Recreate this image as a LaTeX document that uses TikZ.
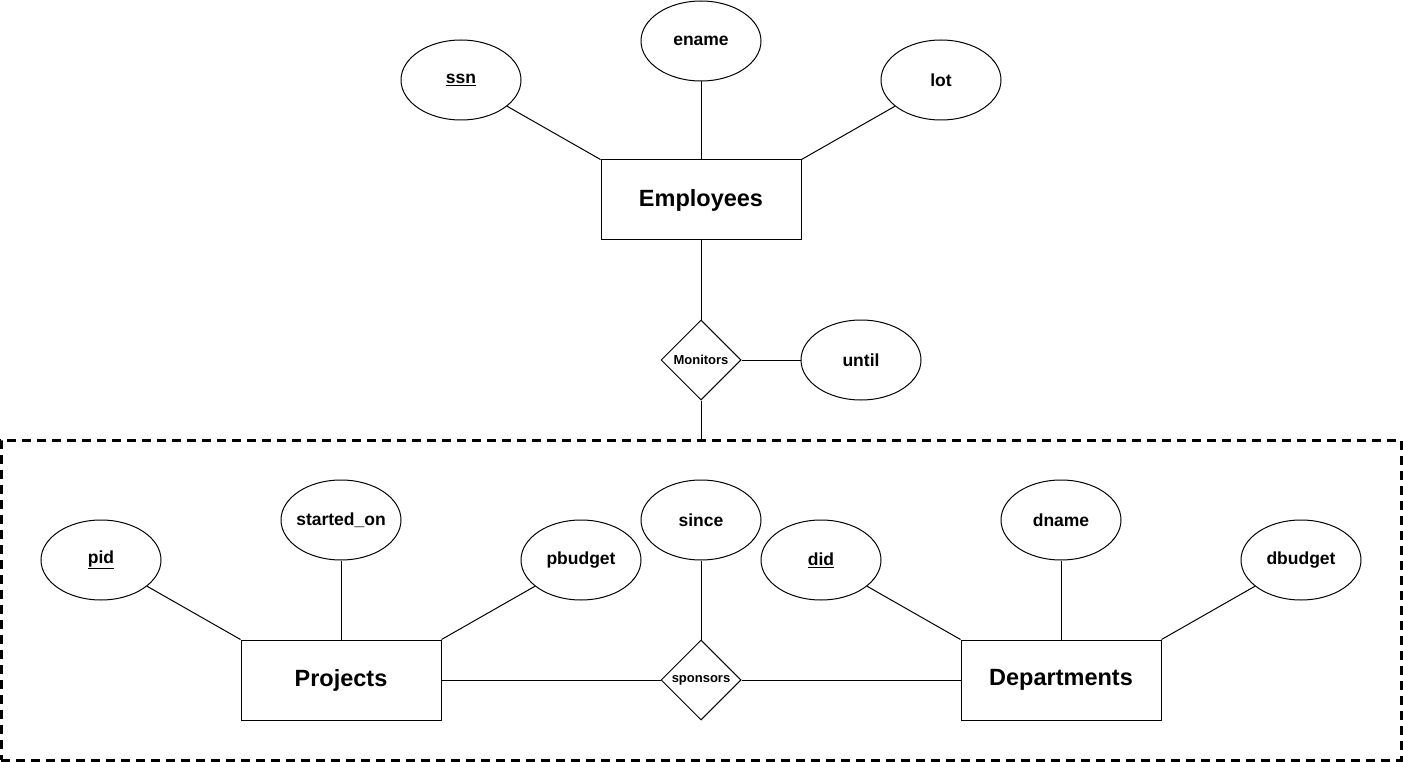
\documentclass[tikz,border=0pt]{standalone}
\usepackage{fontspec}
\setmainfont{Liberation Sans}
\usetikzlibrary{shapes.geometric}
\begin{document}
\begin{tikzpicture}[x=1pt,y=-1pt,
  entity/.style={draw,line width=1pt,rectangle,minimum width=200pt,minimum height=80pt,inner sep=0pt,font=\fontsize{23.5}{27}\selectfont\bfseries},
  attr/.style={draw,line width=1pt,ellipse,minimum width=120pt,minimum height=80pt,inner sep=0pt,font=\fontsize{17.5}{20}\selectfont\bfseries},
  rel/.style={draw,line width=1pt,diamond,minimum width=80pt,minimum height=80pt,inner sep=0pt,font=\fontsize{13}{15}\selectfont\bfseries},
  link/.style={line width=1pt},
  agg/.style={draw,line width=3pt,dash pattern=on 9pt off 6pt,minimum width=1400pt,minimum height=320pt,inner sep=0pt}]
\useasboundingbox (0,0) rectangle (1403,762);
\node[agg] (box) at (701,600) {};
\node[entity] (emp) at (701,200) {Employees};
\node[attr] (ssn) at (461,80) {\underline{ssn}};
\node[attr] (ename) at (701,41) {ename};
\node[attr] (lot) at (941,80) {lot};
\node[rel] (mon) at (701,360) {Monitors};
\node[attr] (until) at (861,360) {until};
\node[entity] (proj) at (341,680) {Projects};
\node[attr] (pid) at (101,560) {\underline{pid}};
\node[attr,inner xsep=-8pt] (start) at (341,520) {started\_on};
\node[attr] (pbud) at (581,560) {pbudget};
\node[attr] (since) at (701,520) {since};
\node[rel] (spon) at (701,680) {sponsors};
\node[entity] (dept) at (1061,680) {Departments};
\node[attr] (did) at (821,560) {\underline{did}};
\node[attr] (dname) at (1061,520) {dname};
\node[attr] (dbud) at (1301,560) {dbudget};
\draw[link] (ssn) -- (emp.north west);
\draw[link] (ename) -- (emp.north);
\draw[link] (lot) -- (emp.north east);
\draw[link] (emp.south) -- (mon.north);
\draw[link] (mon.east) -- (until.west);
\draw[link] (mon.south) -- (box.north);
\draw[link] (pid) -- (proj.north west);
\draw[link] (start) -- (proj.north);
\draw[link] (pbud) -- (proj.north east);
\draw[link] (since) -- (spon.north);
\draw[link] (proj.east) -- (spon.west);
\draw[link] (spon.east) -- (dept.west);
\draw[link] (did) -- (dept.north west);
\draw[link] (dname) -- (dept.north);
\draw[link] (dbud) -- (dept.north east);
\end{tikzpicture}
\end{document}
